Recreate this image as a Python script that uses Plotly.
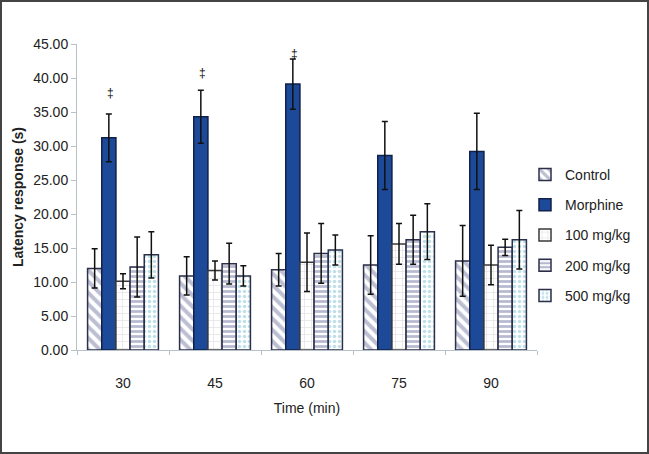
import plotly.graph_objects as go

times = ["30", "45", "60", "75", "90"]
series_names = ["Control", "Morphine", "100 mg/kg", "200 mg/kg", "500 mg/kg"]
control = [12.0, 10.9, 11.8, 12.5, 13.1]
control_err = [2.9, 2.8, 2.4, 4.3, 5.2]
morphine = [31.2, 34.3, 39.1, 28.6, 29.2]
morphine_err = [3.5, 3.9, 3.7, 5.0, 5.6]
dose100 = [10.1, 11.7, 12.9, 15.6, 12.5]
dose100_err = [1.1, 1.4, 4.3, 3.0, 2.9]
dose200 = [12.2, 12.7, 14.2, 16.2, 15.1]
dose200_err = [4.4, 3.0, 4.4, 3.6, 1.2]
dose500 = [14.0, 10.9, 14.7, 17.4, 16.2]
dose500_err = [3.4, 1.5, 2.2, 4.1, 4.3]
sig_times = ["30", "45", "60"]
sig_marks_y = [37.8, 40.8, 43.6]
y_ticks = [0, 5, 10, 15, 20, 25, 30, 35, 40, 45]

values = [control, morphine, dose100, dose200, dose500]
errors = [control_err, morphine_err, dose100_err, dose200_err, dose500_err]

styles = [
    dict(color="white", marker_line="#2b2f4a",
         pattern=dict(shape="\\", fgcolor="#7a7ea6", bgcolor="white", size=8, solidity=0.5, fillmode="overlay")),
    dict(color="#1c4a98", marker_line="#10204a", pattern=None),
    dict(color="white", marker_line="#3a3a3a",
         pattern=dict(shape="+", fgcolor="#c4c4c4", bgcolor="white", size=7, solidity=0.2, fillmode="overlay")),
    dict(color="white", marker_line="#2b2f4a",
         pattern=dict(shape="-", fgcolor="#6f74a0", bgcolor="white", size=5, solidity=0.55, fillmode="overlay")),
    dict(color="white", marker_line="#2b2f4a",
         pattern=dict(shape=".", fgcolor="#7fc2d4", bgcolor="white", size=5, solidity=0.4, fillmode="overlay")),
]

fig = go.Figure()
for name, vals, errs, st in zip(series_names, values, errors, styles):
    marker = dict(color=st["color"], line=dict(color=st["marker_line"], width=1.5))
    if st["pattern"]:
        marker["pattern"] = st["pattern"]
    fig.add_trace(go.Bar(
        name=name, x=times, y=vals, legendgroup=name,
        marker=marker,
        error_y=dict(type="data", array=errs, visible=True, color="#111111", thickness=1.5, width=3),
    ))

for t, yv in zip(sig_times, sig_marks_y):
    fig.add_annotation(x=times.index(t), y=yv, text="‡", showarrow=False, xref="x", yref="y",
                       xshift=-13, font=dict(size=12, color="#111111", family="Liberation Sans, Arial"))

L, R, T, B = 77, 112, 44, 104
W, H = 649, 454
pw, ph = W - L - R, H - T - B
fig.add_shape(type="rect", xref="paper", yref="paper",
              x0=(-L + 1) / pw, x1=(W - L - 1) / pw,
              y0=(-B + 1) / ph, y1=1 + (T - 1) / ph,
              line=dict(color="#444444", width=2), fillcolor="rgba(0,0,0,0)", layer="above")

fig.update_layout(
    width=W, height=H,
    margin=dict(l=L, r=R, t=T, b=B, autoexpand=False),
    paper_bgcolor="white", plot_bgcolor="white",
    barmode="group", bargap=0.23, bargroupgap=0,
    font=dict(family="Liberation Sans, Arial", size=14, color="#222222"),
    showlegend=True,
    legend=dict(x=(525 - L) / pw, y=(H - B - 159) / ph, xanchor="left", yanchor="top",
                font=dict(size=14, color="#222222"), tracegroupgap=9, itemwidth=30,
                bgcolor="rgba(0,0,0,0)"),
    xaxis=dict(type="category", range=[-0.5, len(times) - 0.5],
               title=dict(text="Time (min)", font=dict(size=14), standoff=13),
               showline=True, linecolor="#b8c0c8", linewidth=1,
               ticks="outside", tickson="boundaries", ticklen=4, tickcolor="#b8c0c8",
               ticklabelstandoff=20, showgrid=False, automargin=False, tickangle=0,
               tickfont=dict(size=14)),
    yaxis=dict(title=dict(text="<b>Latency response (s)</b>", font=dict(size=14), standoff=6),
               range=[0, 45], tickvals=y_ticks, tickformat=".2f", automargin=False,
               showline=True, linecolor="#b8c0c8", linewidth=1, tickfont=dict(size=14),
               ticks="outside", ticklen=5, tickcolor="#b8c0c8", showgrid=False, zeroline=False),
)

fig.write_html("out.html", config={"displayModeBar": False},
               post_script="document.body.style.margin='0px';")
